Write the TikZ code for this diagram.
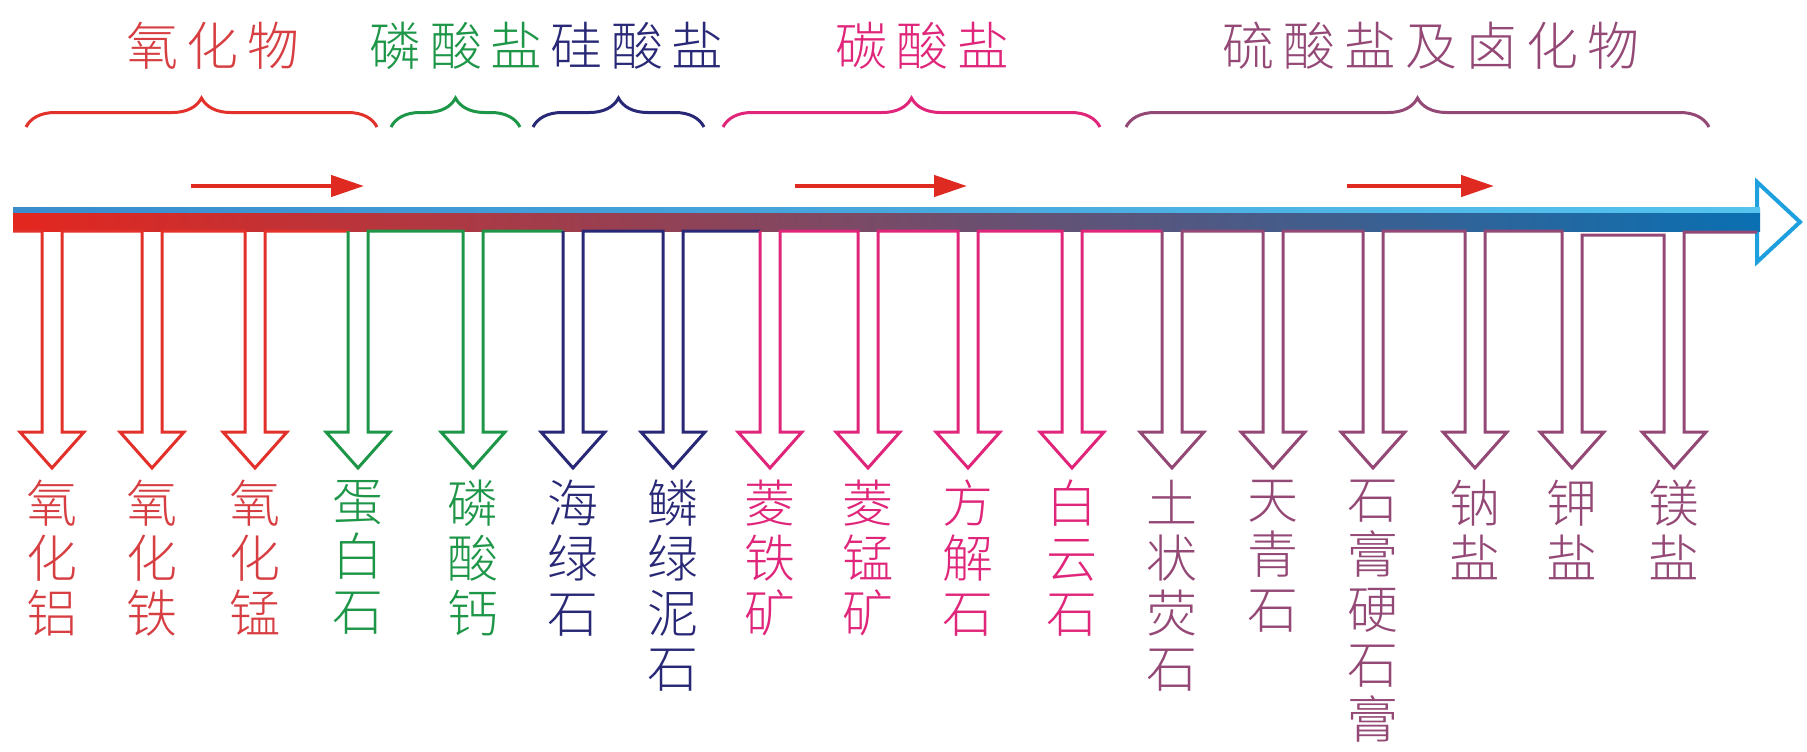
\documentclass[tikz,border=0pt]{standalone}
\usepackage{fontspec}
\newfontfamily\cjk{Noto Sans CJK SC Light}
\usetikzlibrary{decorations.pathreplacing,arrows.meta}
\definecolor{cred}{RGB}{226,48,42}
\definecolor{ctred}{RGB}{214,62,66}
\definecolor{cgreen}{RGB}{30,150,72}
\definecolor{cnavy}{RGB}{40,40,118}
\definecolor{cpink}{RGB}{224,38,122}
\definecolor{cmauve}{RGB}{148,72,118}
\definecolor{barred}{RGB}{228,38,30}
\definecolor{barblue}{RGB}{10,112,178}
\definecolor{stripeL}{RGB}{58,140,205}
\definecolor{stripeR}{RGB}{85,195,238}
\definecolor{headblue}{RGB}{30,160,222}
\definecolor{smallred}{RGB}{222,42,32}
\begin{document}
\begin{tikzpicture}[x=1pt,y=-1pt,
  comb/.style={line width=3pt, line join=miter},
  curly/.style={line width=3pt, decorate, decoration={brace, amplitude=29pt}},
  toplabel/.style={inner sep=0pt, font=\cjk\fontsize{52}{52}\selectfont},
  vlabel/.style={inner sep=0pt, anchor=north, align=center, font=\cjk\fontsize{51}{55}\selectfont},
  smallarrow/.style={smallred, line width=4.5pt, -{Triangle[length=33pt,width=21pt]}}
]
\useasboundingbox (0,0) rectangle (1807,752);
% main arrow head
\draw[headblue, line width=4pt, fill=white, line join=miter] (1757,182) -- (1800,222) -- (1757,262) -- cycle;
% main bar
\shade[left color=barred, right color=barblue] (13,212) rectangle (1760,231);
\shade[left color=stripeL, right color=stripeR] (13,207) rectangle (1760,212);
% combs
\draw[comb, cred] (13,231) \foreach \x in {52,152,255} {-- (\x-10,231) -- (\x-10,432) -- (\x-32,432) -- (\x,468) -- (\x+32,432) -- (\x+10,432) -- (\x+10,231)} -- (348,231);
\draw[comb, cgreen] (348,231) \foreach \x in {358,473} {-- (\x-10,231) -- (\x-10,432) -- (\x-32,432) -- (\x,468) -- (\x+32,432) -- (\x+10,432) -- (\x+10,231)} -- (563,231);
\draw[comb, cnavy] (563,231) \foreach \x in {573,673} {-- (\x-10,231) -- (\x-10,432) -- (\x-32,432) -- (\x,468) -- (\x+32,432) -- (\x+10,432) -- (\x+10,231)} -- (760,231);
\draw[comb, cpink] (760,231) \foreach \x in {770,868,968,1072} {-- (\x-10,231) -- (\x-10,432) -- (\x-32,432) -- (\x,468) -- (\x+32,432) -- (\x+10,432) -- (\x+10,231)} -- (1162,231);
\draw[comb, cmauve] (1162,231) \foreach \x in {1172,1273,1373,1475} {-- (\x-10,231) -- (\x-10,432) -- (\x-32,432) -- (\x,468) -- (\x+32,432) -- (\x+10,432) -- (\x+10,231)}
  -- (1562,231) -- (1562,432) -- (1540,432) -- (1572,468) -- (1604,432) -- (1582,432) -- (1582,235)
  -- (1664,235) -- (1664,432) -- (1642,432) -- (1674,468) -- (1706,432) -- (1684,432) -- (1684,232) -- (1757,232);
% small red arrows
\coordinate (a1s) at (191,186); \coordinate (a1e) at (364,186);
\coordinate (a2s) at (795,186); \coordinate (a2e) at (967,186);
\coordinate (a3s) at (1347,186); \coordinate (a3e) at (1494,186);
\draw[smallarrow] (a1s) -- (a1e);
\draw[smallarrow] (a2s) -- (a2e);
\draw[smallarrow] (a3s) -- (a3e);
% braces
\draw[curly, cred] (26,127) -- (377,127);
\draw[curly, cgreen] (391,127) -- (520,127);
\draw[curly, cnavy] (533,127) -- (704,127);
\draw[curly, cpink] (723,127) -- (1100,127);
\draw[curly, cmauve] (1126,127) -- (1709,127);
% top labels
\node[toplabel, text=ctred] (T1) at (213,46) {氧\hspace{9pt}化\hspace{9pt}物};
\node[toplabel, text=cgreen] (T2) at (456,46) {磷\hspace{9pt}酸\hspace{9pt}盐};
\node[toplabel, text=cnavy] (T3) at (637,46) {硅\hspace{9pt}酸\hspace{9pt}盐};
\node[toplabel, text=cpink] (T4) at (922,46) {碳\hspace{9pt}酸\hspace{9pt}盐};
\node[toplabel, text=cmauve] (T5) at (1431,46) {硫\hspace{9pt}酸\hspace{9pt}盐\hspace{9pt}及\hspace{9pt}卤\hspace{9pt}化\hspace{9pt}物};
% vertical labels
\node[vlabel, text=ctred] (L1) at (52,480) {氧\\化\\铝};
\node[vlabel, text=ctred] (L2) at (152,480) {氧\\化\\铁};
\node[vlabel, text=ctred] (L3) at (255,480) {氧\\化\\锰};
\node[vlabel, text=cgreen] (L4) at (358,480) {蛋\\白\\石};
\node[vlabel, text=cgreen] (L5) at (473,480) {磷\\酸\\钙};
\node[vlabel, text=cnavy] (L6) at (573,480) {海\\绿\\石};
\node[vlabel, text=cnavy] (L7) at (673,480) {鳞\\绿\\泥\\石};
\node[vlabel, text=cpink] (L8) at (770,480) {菱\\铁\\矿};
\node[vlabel, text=cpink] (L9) at (868,480) {菱\\锰\\矿};
\node[vlabel, text=cpink] (L10) at (968,480) {方\\解\\石};
\node[vlabel, text=cpink] (L11) at (1072,480) {白\\云\\石};
\node[vlabel, text=cmauve] (L12) at (1172,480) {土\\状\\荧\\石};
\node[vlabel, text=cmauve] (L13) at (1273,480) {天\\青\\石};
\node[vlabel, text=cmauve] (L14) at (1373,480) {石\\膏\\硬\\石\\膏};
\node[vlabel, text=cmauve] (L15) at (1475,480) {钠\\盐};
\node[vlabel, text=cmauve] (L16) at (1572,480) {钾\\盐};
\node[vlabel, text=cmauve] (L17) at (1674,480) {镁\\盐};
\end{tikzpicture}
\end{document}
